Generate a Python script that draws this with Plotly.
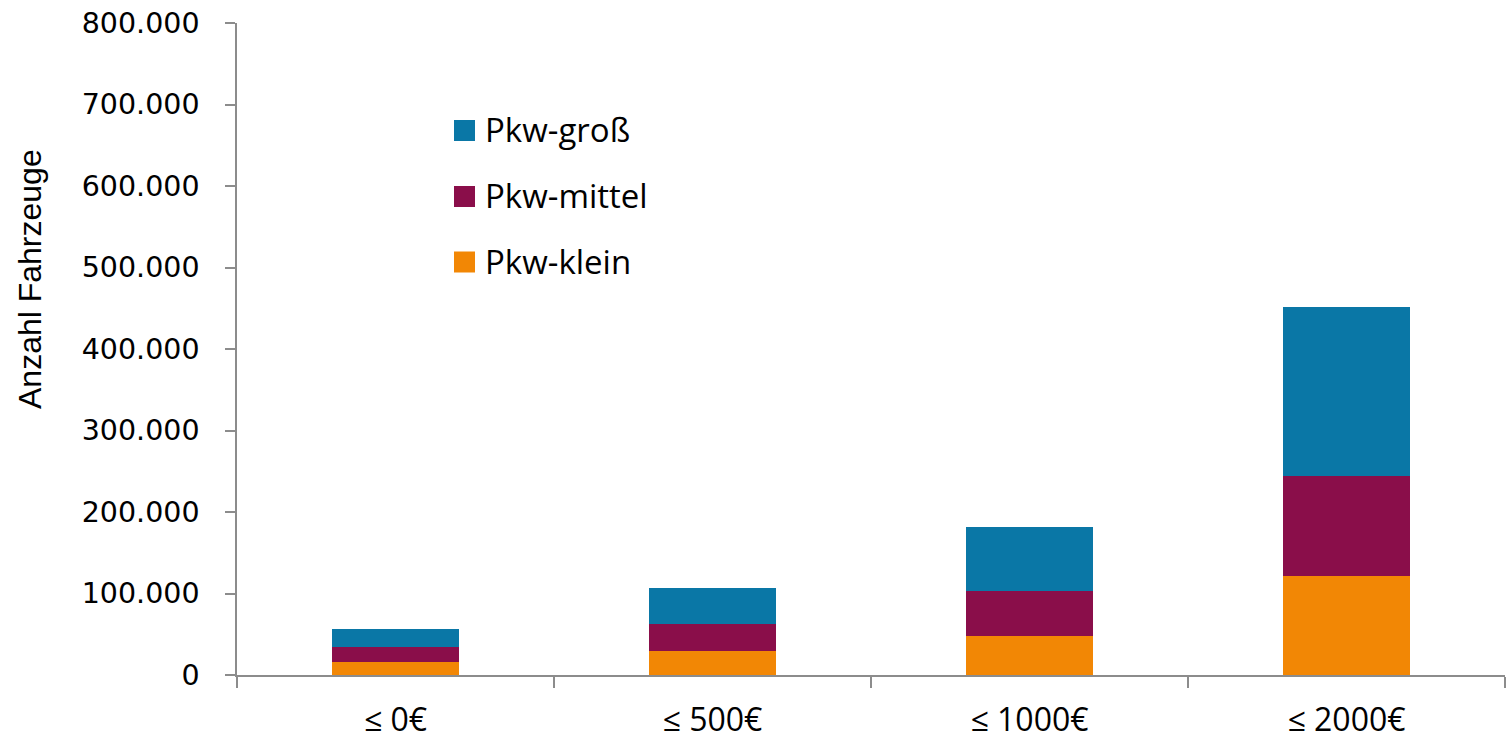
import plotly.graph_objects as go

# Price-difference classes (upper bounds) and vehicle counts per car segment
categories = ["≤ 0€", "≤ 500€", "≤ 1000€", "≤ 2000€"]
pkw_klein = [16500, 29500, 48400, 121600]
pkw_mittel = [17900, 33600, 55200, 122000]
pkw_gross = [22100, 43400, 78100, 207900]

series_names = ["Pkw-klein", "Pkw-mittel", "Pkw-groß"]
series_values = [pkw_klein, pkw_mittel, pkw_gross]
series_colors = ["#F28705", "#8A0E4A", "#0A77A6"]

y_ticks = [0, 100000, 200000, 300000, 400000, 500000, 600000, 700000, 800000]

W, H = 1507, 739
M_L, M_R, M_T, M_B = 237, 2, 23, 64
TEXT_FONT = "Open Sans, Liberation Sans, sans-serif"
TICK_FONT = "DejaVu Sans, Verdana, sans-serif"
TITLE_FONT = "Liberation Sans, Arial, sans-serif"
AXIS_COLOR = "#8C8C8C"

fig = go.Figure()
for name, vals, col in zip(series_names, series_values, series_colors):
    fig.add_trace(go.Bar(
        x=categories, y=vals, name=name,
        marker=dict(color=col, line=dict(width=0)),
        showlegend=False,
    ))

# Legend drawn as square swatches with labels, top entry = top of the stack
plot_w = W - M_L - M_R
plot_h = H - M_T - M_B
def px_x(px):
    return (px - M_L) / plot_w
def px_y(py):
    return (H - M_B - py) / plot_h

legend_rows = list(zip(series_names, series_colors))[::-1]
row_centers = [130.5, 196.5, 262]
for (name, col), cy in zip(legend_rows, row_centers):
    fig.add_shape(type="rect", xref="paper", yref="paper",
                  x0=px_x(454), x1=px_x(475), y0=px_y(cy + 10.5), y1=px_y(cy - 10.5),
                  fillcolor=col, line=dict(width=0))
    fig.add_annotation(xref="paper", yref="paper", x=px_x(483), y=px_y(cy - 1),
                       text=name, showarrow=False, xanchor="left", yanchor="middle",
                       font=dict(family=TEXT_FONT, size=33, color="#000000"))

# Vertical axis title
fig.add_annotation(xref="paper", yref="paper", x=px_x(30), y=px_y(279),
                   text="Anzahl Fahrzeuge", textangle=-90, showarrow=False,
                   xanchor="center", yanchor="middle",
                   font=dict(family=TITLE_FONT, size=32, color="#000000"))

fig.update_layout(
    width=W, height=H,
    margin=dict(l=M_L, r=M_R, t=M_T, b=M_B, pad=0),
    barmode="stack", bargap=0.6,
    plot_bgcolor="white", paper_bgcolor="white",
    separators=",.",
    font=dict(family=TEXT_FONT, color="#000000"),
)
fig.update_xaxes(
    type="category", tickson="boundaries", automargin=False,
    showline=True, linecolor=AXIS_COLOR, linewidth=1.5,
    ticks="outside", ticklen=11, tickcolor=AXIS_COLOR, tickwidth=1.5,
    tickfont=dict(family=TEXT_FONT, size=32, color="#000000"),
    ticklabelstandoff=16,
    showgrid=False, zeroline=False,
)
fig.update_yaxes(
    range=[0, 800000], tickvals=y_ticks, tickformat=",d", automargin=False,
    showline=True, linecolor=AXIS_COLOR, linewidth=1.5,
    ticks="outside", ticklen=10, tickcolor=AXIS_COLOR, tickwidth=1.5,
    tickfont=dict(family=TICK_FONT, size=28.5, color="#000000"),
    ticklabelstandoff=20,
    showgrid=False, zeroline=False,
)

fig.write_html("out.html")
